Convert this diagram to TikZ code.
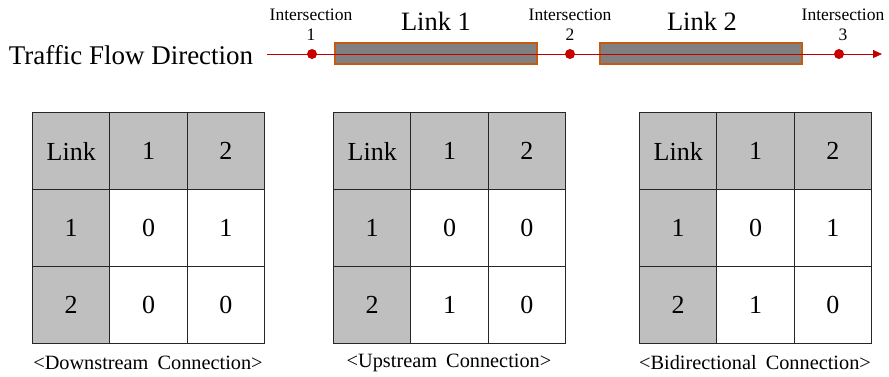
\documentclass[tikz,border=0pt]{standalone}
\usepackage{fontspec}
\setmainfont{Liberation Serif}
\usetikzlibrary{arrows.meta}
\definecolor{hdrgray}{RGB}{191,191,191}
\definecolor{roadgray}{RGB}{128,128,128}
\definecolor{roadedge}{RGB}{197,90,17}
\definecolor{flowred}{RGB}{192,0,0}
\definecolor{dotred}{RGB}{200,0,0}
\tikzset{
  linkbar/.style={draw=roadedge, line width=1.2pt, fill=roadgray, minimum width=202, minimum height=21, inner sep=0pt},
  isect/.style={circle, fill=dotred, minimum size=10, inner sep=0pt},
  smalltxt/.style={font=\fontsize{17.5}{19}\selectfont, inner sep=0pt},
  bigtxt/.style={font=\fontsize{26.5}{29}\selectfont, inner sep=0pt},
  cell/.style={draw=black!85, line width=1.1pt, minimum width=77.3, minimum height=77, inner sep=0pt, anchor=north west, font=\fontsize{26}{28}\selectfont},
  hcell/.style={cell, fill=hdrgray},
  captxt/.style={font=\fontsize{20.3}{22}\selectfont, inner sep=0pt}
}
\begin{document}
\begin{tikzpicture}[x=1pt,y=-1pt]
\useasboundingbox (0,0) rectangle (889,376);

% road with its two links
\node[font=\fontsize{27}{30}\selectfont, inner sep=0pt] (title) at (131,55) {Traffic Flow Direction};
\node[linkbar] (link1) at (436,53.5) {};
\node[linkbar] (link2) at (701,53.5) {};
\coordinate (roadstart) at (267,54);
\coordinate (roadend) at (882,54);
\draw[flowred, line width=0.9pt, -{Triangle[length=9,width=8]}] (roadstart) -- (roadend);
\node[isect] (i1) at (312,54) {};
\node[isect] (i2) at (570,54) {};
\node[isect] (i3) at (839,54) {};

\node[smalltxt] (i1lab) at (311,15) {Intersection};
\node[smalltxt] (i1num) at (311,35) {1};
\node[smalltxt] (i2lab) at (570,15) {Intersection};
\node[smalltxt] (i2num) at (570,35) {2};
\node[smalltxt] (i3lab) at (843,15) {Intersection};
\node[smalltxt] (i3num) at (843,35) {3};
\node[bigtxt] (l1lab) at (436,21) {Link 1};
\node[bigtxt] (l2lab) at (702,21) {Link 2};

% connection matrices
\foreach \t/\x/\a/\b/\c/\d/\cap in {
  1/32/0/1/0/0/{<Downstream\hspace{0.45em}Connection>},
  2/333/0/0/1/0/{<Upstream\hspace{0.45em}Connection>},
  3/639/0/1/1/0/{<Bidirectional\hspace{0.45em}Connection>}}{
  \node[hcell] (t\t-00) at (\x,112) {Link};
  \node[hcell] (t\t-01) at (\x+77.3,112) {1};
  \node[hcell] (t\t-02) at (\x+154.6,112) {2};
  \node[hcell] (t\t-10) at (\x,189) {1};
  \node[cell]  (t\t-11) at (\x+77.3,189) {\a};
  \node[cell]  (t\t-12) at (\x+154.6,189) {\b};
  \node[hcell] (t\t-20) at (\x,266) {2};
  \node[cell]  (t\t-21) at (\x+77.3,266) {\c};
  \node[cell]  (t\t-22) at (\x+154.6,266) {\d};
  \node[captxt] (cap\t) at (\x+116,363) {\cap};
}
\end{tikzpicture}
\end{document}
